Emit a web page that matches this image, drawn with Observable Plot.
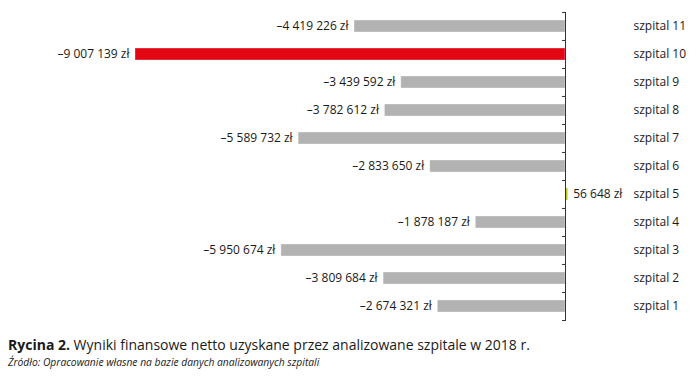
<!DOCTYPE html>
<html><head><meta charset="utf-8">
<script src="https://cdn.jsdelivr.net/npm/d3@7"></script>
<script src="https://cdn.jsdelivr.net/npm/@observablehq/plot@0.6"></script>
<style>
body{margin:0;background:#fff;font-family:"Open Sans",sans-serif;color:#1a1a1a}
#chart svg{display:block}
.cap{margin:11px 0 0 8px;font-size:14px;line-height:18px;white-space:nowrap}
.cap b{font-weight:700}
.src{margin:2px 0 0 8px;font-size:10.3px;line-height:13px;font-style:italic;white-space:nowrap}
</style></head>
<body>
<div id="chart"></div>
<div class="cap"><b>Rycina 2.</b> Wyniki finansowe netto uzyskane przez analizowane szpitale w 2018 r.</div>
<div class="src">Źródło: Opracowanie własne na bazie danych analizowanych szpitali</div>
<script>
const hospitals = ["szpital 1","szpital 2","szpital 3","szpital 4","szpital 5","szpital 6","szpital 7","szpital 8","szpital 9","szpital 10","szpital 11"];
const values = [-2674321, -3809684, -5950674, -1878187, 56648, -2833650, -5589732, -3782612, -3439592, -9007139, -4419226];

const data = hospitals.map((h, i) => ({name: h, value: values[i]}));
const minVal = d3.min(values);
const colorOf = v => v > 0 ? "#b0c914" : v === minVal ? "#e30613" : "#b2b2b2";

const locale = d3.formatLocale({decimal: ",", thousands: "\u00a0", grouping: [3], currency: ["", " zł"], minus: "\u2013"});
const fmt = locale.format("$,d");

const W = 700, H = 325, mt = 12, mb = 4;
const step = (H - mt - mb) / hospitals.length;
const pad = 0.57;

const chart = Plot.plot({
  width: W, height: H,
  marginLeft: 135, marginRight: 135, marginTop: mt, marginBottom: mb,
  style: {fontFamily: "Open Sans, sans-serif", fontSize: "12px", color: "#1a1a1a"},
  x: {domain: [minVal, 0], axis: null},
  y: {domain: hospitals.slice().reverse(), paddingInner: pad, paddingOuter: pad / 2, label: null},
  marks: [
    Plot.barX(data, {x: "value", y: "name", fill: d => colorOf(d.value), stroke: "white", strokeOpacity: 0.35, strokeWidth: 1}),
    Plot.ruleX([0], {stroke: "#333", strokeWidth: 1}),
    Plot.ruleY(hospitals, {y: d => d, x1: 0, x2: 0, insetLeft: -3, dy: -step / 2, stroke: "#333"}),
    Plot.ruleY([hospitals[0]], {y: d => d, x1: 0, x2: 0, insetLeft: -3, dy: step / 2, stroke: "#333"}),
    Plot.text(data.filter(d => d.value < 0), {x: "value", y: "name", text: d => fmt(d.value), textAnchor: "end", dx: -6, fill: "#1a1a1a"}),
    Plot.text(data.filter(d => d.value >= 0), {x: "value", y: "name", text: d => fmt(d.value), textAnchor: "start", dx: 5, fill: "#1a1a1a"}),
    Plot.axisY({anchor: "right", tickSize: 0, tickPadding: 68, label: null, fontSize: 12})
  ]
});
document.getElementById("chart").appendChild(chart);
</script>
</body></html>
